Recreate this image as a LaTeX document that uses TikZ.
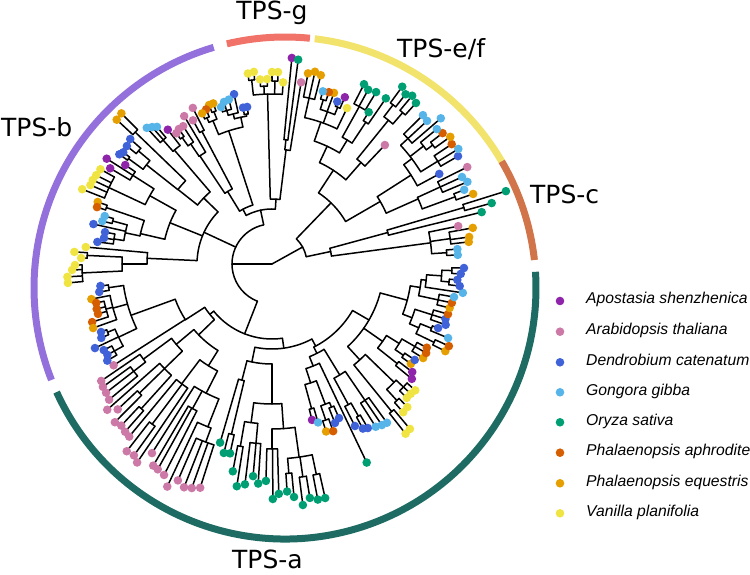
\documentclass[tikz,border=0pt]{standalone}
\usepackage{fontspec}
\setmainfont{DejaVu Sans}
\newfontfamily\legfont{Liberation Sans}
\definecolor{cPu}{HTML}{8E24AA}
\definecolor{cPk}{HTML}{CC79A7}
\definecolor{cBl}{HTML}{4062D8}
\definecolor{cLB}{HTML}{56B4E9}
\definecolor{cG}{HTML}{009E73}
\definecolor{cVm}{HTML}{D55E00}
\definecolor{cOr}{HTML}{E69F00}
\definecolor{cY}{HTML}{F0E442}
\definecolor{rB}{HTML}{9370DB}
\definecolor{rG}{HTML}{F07268}
\definecolor{rE}{HTML}{F1E36C}
\definecolor{rC}{HTML}{D2744A}
\definecolor{rA}{HTML}{1D6B62}
\pgfdeclarelayer{dots}
\pgfsetlayers{main,dots}
\tikzset{br/.style={line width=1.5pt, line cap=round, line join=round, black},
  ring/.style={line width=7pt},
  clab/.style={inner sep=0pt, font=\fontsize{25}{30}\selectfont},
  leg/.style={inner sep=0pt, anchor=mid west, font=\fontsize{15.7}{18}\selectfont\legfont\itshape}}
\newcommand\ndA[5]{\draw[br] (#3:#1pt) -- (#3:#2pt); \draw[br] (#4:#2pt) arc[start angle=#4, end angle=#5, radius=#2pt];}
\newcommand\tpA[4]{\draw[br] (#3:#1pt) -- (#3:#2pt); \begin{pgfonlayer}{dots}\fill[#4] (#3:#2pt) circle[radius=4.3pt];\end{pgfonlayer}}
\newcommand\chA[8]{\pgfmathsetmacro\chmid{(#3+#6)/2}\draw[br] (\chmid:#1pt) -- (\chmid:#2pt); \draw[br] (#3:#2pt) arc[start angle=#3, end angle=#6, radius=#2pt]; \tpA{#2}{#4}{#3}{#5}\tpA{#2}{#7}{#6}{#8}}
\begin{document}
\begin{tikzpicture}[x=1pt,y=1pt]
\useasboundingbox (0,0) rectangle (750,575);
% ---- ring ----
\begin{scope}[shift={(285,287)}]
\draw[ring,rB] (106.5:251pt) arc[start angle=106.5,end angle=201.5,radius=251pt];
\draw[ring,rG] (84.3:251pt) arc[start angle=84.3,end angle=103.4,radius=251pt];
\draw[ring,rE] (30.3:251pt) arc[start angle=30.3,end angle=83.2,radius=251pt];
\draw[ring,rC] (6.4:251pt) arc[start angle=6.4,end angle=30.3,radius=251pt];
\draw[ring,rA] (-155.5:251pt) arc[start angle=-155.5,end angle=3.7,radius=251pt];
\end{scope}
% ---- tree ----
\begin{scope}[shift={(272,311)}]
\ndA{0}{40}{180}{102}{248.6}
\ndA{0}{35}{29}{12}{46}
% Ltop
\ndA{40}{55}{102}{86.5}{118}
\ndA{55}{65}{86.5}{83}{91.5}
\ndA{65}{170}{91.5}{86.5}{96.3}
\chA{170}{185}{97.2}{192}{cY}{95.4}{193}{cY}
\chA{170}{178}{93.7}{185}{cY}{91.5}{185}{cY}
\chA{170}{183}{90}{192}{cY}{88.2}{192}{cY}
\tpA{170}{182}{86.5}{cY}
\ndA{65}{115}{83}{80.9}{83.6}
\chA{115}{125}{84.5}{207}{cPu}{82.7}{206}{cG}
\tpA{115}{184}{80.9}{cPk}
\ndA{55}{62}{118}{108}{121.5}
\ndA{62}{140}{108}{102}{112.4}
\ndA{140}{150}{102}{99.75}{104.5}
\chA{150}{152}{99}{159}{cBl}{100.5}{159}{cBl}
\ndA{150}{155}{104.5}{102.6}{106.4}
\tpA{155}{174}{102.6}{cBl}
\ndA{155}{160}{106.4}{104.7}{108}
\tpA{160}{170}{104.7}{cLB}\tpA{160}{169}{106.5}{cLB}\tpA{160}{165}{108}{cLB}
\ndA{140}{155}{112.4}{110.85}{114}
\chA{155}{163}{110.1}{171}{cOr}{111.6}{171}{cOr}
\chA{155}{160}{113.1}{168}{cVm}{114.9}{166}{cOr}
\ndA{62}{85}{121.5}{117.85}{123.7}
\chA{85}{150}{116.9}{175}{cPk}{118.8}{164}{cPk}
\ndA{85}{130}{123.7}{120.7}{124.1}
\tpA{130}{172}{120.7}{cPk}
\ndA{130}{145}{124.1}{122.8}{125.4}
\tpA{145}{164}{122.8}{cPk}
\chA{145}{155}{124.6}{164}{cPk}{126.2}{162}{cPk}
% Lmid
\ndA{40}{75}{155}{136}{177.4}
\ndA{75}{95}{136}{130.6}{141.6}
\ndA{95}{150}{130.6}{127.8}{131.3}
\tpA{150}{170}{127.8}{cPu}
\ndA{150}{165}{131.3}{130}{132.6}
\tpA{165}{179}{130}{cLB}\tpA{165}{182}{131.2}{cLB}\tpA{165}{185}{132.6}{cLB}
\ndA{95}{120}{141.6}{136.05}{141.7}
\chA{120}{190}{135}{213}{cOr}{137.1}{212}{cOr}
\ndA{120}{160}{141.7}{139.75}{143.7}
\chA{160}{175}{138.6}{189}{cBl}{140.9}{187}{cBl}
\chA{160}{178}{143.1}{186}{cBl}{144.3}{188}{cBl}
\ndA{75}{110}{158}{150.8}{167}
\ndA{110}{140}{150.8}{147.5}{154.9}
\ndA{140}{165}{147.5}{146}{149.4}
\tpA{165}{177}{146}{cPu}\tpA{165}{196}{147.5}{cPu}\tpA{165}{188}{149.4}{cPu}
\ndA{140}{180}{154.9}{151.1}{158.5}
\tpA{180}{196}{151.1}{cY}\tpA{180}{197}{153.2}{cY}\tpA{180}{198}{154.9}{cY}\tpA{180}{198}{156.5}{cY}\tpA{180}{204}{158.5}{cY}
\ndA{110}{135}{167}{161.2}{168}
\chA{135}{175}{160.4}{185}{cOr}{162}{184}{cVm}
\ndA{135}{150}{168}{164.9}{171}
\chA{150}{165}{164}{174}{cLB}{165.8}{175}{cLB}
\tpA{150}{183}{167.4}{cBl}
\ndA{150}{160}{171}{169.2}{172.8}
\tpA{160}{170}{169.2}{cBl}\tpA{160}{170}{171.2}{cBl}\tpA{160}{176}{172.8}{cBl}
\ndA{75}{125}{177.4}{174.8}{180}
\tpA{125}{187}{174.8}{cY}
\ndA{125}{150}{180}{177.35}{182.7}
\chA{150}{185}{176.5}{198}{cY}{178.2}{191}{cY}
\ndA{150}{190}{182.7}{180.3}{185.3}
\tpA{190}{197}{180.3}{cY}\tpA{190}{200}{181.7}{cY}\tpA{190}{205}{183.6}{cY}\tpA{190}{205}{185.3}{cY}
% LB
\ndA{40}{75}{248.6}{219}{278}
\ndA{75}{80}{219}{212.8}{224}
\ndA{80}{103}{212.8}{200}{212.8}
\tpA{103}{188}{212.6}{cPk}
\ndA{103}{150}{200}{188.25}{205.5}
\chA{150}{165}{187.3}{173}{cBl}{189.2}{175}{cBl}
\ndA{150}{165}{195.5}{191}{199.7}
\tpA{165}{184}{191}{cOr}
\ndA{165}{172}{195.2}{192.5}{197.9}
\tpA{172}{180}{192.5}{cVm}\tpA{172}{181}{194.4}{cVm}\tpA{172}{181}{196}{cVm}\tpA{172}{189}{197.9}{cVm}
\tpA{165}{190}{199.7}{cOr}
\ndA{150}{170}{205.5}{202.55}{208.9}
\chA{170}{178}{201.7}{184}{cBl}{203.4}{186}{cBl}
\tpA{170}{196}{205.4}{cBl}
\ndA{170}{180}{208.9}{207.1}{210.4}
\tpA{180}{189}{207.1}{cBl}\tpA{180}{188}{208.9}{cBl}\tpA{180}{191}{210.4}{cBl}
\ndA{80}{102}{224}{220}{238}
\ndA{102}{125}{220}{216.5}{224.2}
\ndA{125}{160}{216.5}{214.4}{217.8}
\tpA{160}{207}{214.4}{cPk}
\ndA{160}{175}{217.8}{216}{219.8}
\tpA{175}{209}{216}{cPk}\tpA{175}{210}{217.8}{cPk}\tpA{175}{212}{219.8}{cPk}
\ndA{125}{150}{224.2}{221.5}{227.9}
\tpA{150}{220}{221.5}{cPk}
\chA{150}{185}{223.3}{212}{cPk}{225.2}{223}{cPk}
\chA{150}{195}{227}{221}{cPk}{228.8}{223}{cPk}
\ndA{102}{120}{238}{233}{243}
\ndA{120}{150}{233}{230.4}{235.8}
\tpA{150}{224}{230.4}{cPk}
\chA{150}{200}{232.2}{237}{cPk}{234.2}{236}{cPk}
\tpA{150}{240}{235.8}{cPk}
\ndA{120}{145}{243}{237.6}{248.5}
\tpA{145}{224}{237.6}{cPk}
\ndA{145}{165}{241.2}{239.5}{242.9}
\tpA{165}{234}{239.5}{cPk}\tpA{165}{235}{240.9}{cPk}\tpA{165}{237}{242.9}{cPk}
\ndA{145}{175}{248.5}{244.8}{249.6}
\tpA{175}{246}{244.8}{cPk}
\ndA{175}{190}{249.6}{246.5}{252.2}
\tpA{190}{236}{246.5}{cPk}\tpA{190}{240}{248.5}{cPk}\tpA{190}{238}{250.3}{cPk}\tpA{190}{235}{252.2}{cPk}
% GR
\ndA{75}{85}{278}{258.4}{298}
\ndA{85}{100}{258.4}{255.5}{270}
\ndA{100}{120}{255.5}{253.8}{256.6}
\tpA{120}{186}{253.8}{cG}
\chA{120}{175}{255.7}{195}{cG}{257.5}{194}{cG}
\ndA{100}{140}{270}{262.5}{274}
\ndA{140}{160}{262.5}{260.15}{264.9}
\chA{160}{185}{259.3}{211}{cG}{261}{225}{cG}
\ndA{160}{180}{264.9}{263}{266.4}
\tpA{180}{222}{263}{cG}\tpA{180}{213}{264.9}{cG}\tpA{180}{220}{266.4}{cG}
\ndA{140}{165}{274}{270}{278}
\ndA{165}{185}{270}{268.4}{271.7}
\tpA{185}{217}{268.4}{cG}\tpA{185}{235}{270.2}{cG}\tpA{185}{230}{271.7}{cG}
\ndA{165}{195}{278}{274.6}{281.9}
\chA{195}{210}{273.8}{228}{cG}{275.4}{234}{cG}
\chA{195}{215}{277.3}{243}{cG}{279.2}{237}{cG}
\chA{195}{215}{281}{240}{cG}{282.8}{240}{cG}
% RA
\ndA{85}{93}{298}{296.7}{330}
\ndA{93}{100}{296.7}{292}{301.4}
\ndA{100}{110}{292}{288}{295.5}
\tpA{110}{220}{295.5}{cG}
\ndA{110}{125}{288}{285.3}{290.8}
\chA{125}{150}{284.4}{161}{cPu}{286.2}{165}{cLB}
\ndA{125}{150}{290.8}{289}{292.55}
\chA{150}{165}{287.9}{176}{cOr}{290.1}{178}{cVm}
\chA{150}{155}{291.6}{171}{cBl}{293.5}{168}{cBl}
\ndA{100}{130}{301.4}{298.5}{304.3}
\ndA{130}{160}{298.5}{297.1}{299.6}
\tpA{160}{182}{297.1}{cBl}
\chA{160}{175}{298.9}{188}{cBl}{300.3}{190}{cBl}
\ndA{130}{165}{304.3}{302.5}{305.9}
\tpA{165}{193}{302.5}{cLB}\tpA{165}{195}{304.3}{cLB}\tpA{165}{196}{305.9}{cLB}
\ndA{93}{112}{330}{312.5}{345}
\ndA{112}{130}{312.5}{309.05}{315.9}
\chA{130}{190}{308.2}{216}{cY}{309.9}{215}{cY}
\ndA{130}{170}{315.9}{312.45}{316.9}
\chA{170}{185}{311.5}{198}{cY}{313.4}{197}{cY}
\ndA{170}{180}{316.9}{315.2}{318.6}
\tpA{180}{190}{315.2}{cY}\tpA{180}{190}{316.9}{cY}\tpA{180}{191}{318.6}{cY}
\ndA{112}{135}{325}{321.5}{328}
\chA{135}{160}{320.6}{181}{cPu}{322.4}{177}{cPu}
\ndA{135}{150}{328}{325.2}{330}
\chA{150}{160}{324.3}{171}{cOr}{326.1}{172}{cBl}
\ndA{150}{165}{330}{328.1}{331.6}
\tpA{165}{178}{328.1}{cOr}\tpA{165}{178}{330}{cVm}\tpA{165}{176}{331.6}{cVm}
\ndA{112}{140}{345}{339}{351}
\ndA{140}{150}{339}{336.5}{342.4}
\ndA{150}{160}{336.5}{334.2}{338.05}
\chA{160}{180}{333.3}{194}{cOr}{335.1}{195}{cVm}
\chA{160}{172}{337.2}{191}{cLB}{338.9}{178}{cBl}
\ndA{150}{168}{342.4}{340.7}{344.1}
\tpA{168}{184}{340.7}{cBl}\tpA{168}{182}{342.4}{cBl}\tpA{168}{183}{344.1}{cVm}
\ndA{140}{150}{351}{347.8}{354}
\ndA{150}{170}{347.8}{346.1}{349.7}
\tpA{170}{183}{346.1}{cOr}\tpA{170}{184}{347.8}{cVm}\tpA{170}{185}{349.7}{cLB}
\ndA{150}{155}{354}{351.4}{356}
\tpA{155}{193}{351.4}{cLB}
\ndA{155}{170}{356}{354.2}{357.9}
\chA{170}{178}{353.3}{189}{cBl}{355.1}{186}{cBl}
\chA{170}{180}{357}{189}{cBl}{358.8}{192}{cBl}
% R side
\ndA{35}{85}{46}{30}{56.8}
\ndA{85}{112}{56.8}{48.75}{64.9}
\ndA{112}{130}{64.9}{58.75}{71}
\ndA{130}{145}{58.75}{56.5}{61}
\chA{145}{170}{55.5}{201}{cG}{57.5}{180}{cG}
\ndA{145}{180}{61}{58.8}{62.9}
\tpA{180}{201}{58.8}{cG}\tpA{180}{199}{61.1}{cG}\tpA{180}{202}{62.9}{cG}
\ndA{130}{150}{71}{64.3}{77.4}
\tpA{150}{173}{64.3}{cY}
\ndA{150}{162}{70}{67.25}{72.65}
\chA{162}{170}{66.4}{182}{cPu}{68.1}{175}{cBl}
\tpA{162}{182}{70.1}{cOr}
\chA{162}{172}{71.7}{181}{cVm}{73.6}{180}{cLB}
\ndA{150}{170}{77.4}{75.5}{79.3}
\tpA{170}{195}{75.5}{cOr}\tpA{170}{197}{77.4}{cOr}\tpA{170}{194}{79.3}{cOr}
\ndA{112}{135}{48.75}{46.5}{51}
\tpA{135}{164}{46.5}{cPk}
\ndA{135}{185}{51}{49.2}{52.75}
\chA{185}{200}{48.2}{216}{cG}{50.2}{219}{cG}
\chA{185}{200}{51.8}{216}{cG}{53.7}{220}{cG}
\ndA{85}{125}{30}{24}{32.6}
\ndA{125}{165}{32.6}{28.3}{37}
\tpA{165}{190}{28.3}{cBl}
\ndA{165}{175}{37}{31.8}{42.7}
\ndA{175}{195}{31.8}{30.1}{33.7}
\tpA{195}{215}{30.1}{cBl}\tpA{195}{219}{31.7}{cLB}\tpA{195}{216}{33.7}{cVm}
\ndA{175}{192}{37.9}{36.5}{39.3}
\chA{192}{200}{35.5}{219}{cOr}{37.5}{215}{cVm}
\tpA{192}{213}{39.3}{cLB}
\ndA{175}{185}{42.7}{40.8}{44.6}
\tpA{185}{223}{40.8}{cLB}\tpA{185}{211}{42.7}{cLB}\tpA{185}{212}{44.6}{cLB}
\ndA{125}{160}{24}{20.15}{24.6}
\chA{160}{195}{19.2}{213}{cOr}{21.1}{206}{cLB}
\ndA{160}{185}{24.6}{22.8}{26.4}
\tpA{185}{212}{22.8}{cLB}\tpA{185}{209}{24.6}{cLB}\tpA{185}{218}{26.4}{cPk}
\ndA{35}{60}{12}{7.6}{15.2}
\ndA{60}{120}{15.2}{13.9}{16.4}
\tpA{120}{216}{13.9}{cG}
\chA{120}{200}{15.5}{228}{cG}{17.3}{245}{cG}
\ndA{60}{160}{7.6}{3.7}{11.5}
\chA{160}{175}{2.8}{186}{cLB}{4.6}{186}{cLB}
\ndA{160}{180}{8.1}{6.4}{10.2}
\tpA{180}{198}{6.4}{cOr}\tpA{180}{199}{7.8}{cOr}\tpA{180}{204}{10.2}{cOr}
\tpA{160}{190}{11.5}{cPk}
\end{scope}
% ---- clade labels ----
\node[clab, anchor=base] (lg) at (272,555) {TPS-g};
\node[clab, anchor=base west] (lb) at (1,438) {TPS-b};
\node[clab, anchor=base west] (le) at (397,517) {TPS-e/f};
\node[clab, anchor=base west] (lc) at (530,371) {TPS-c};
\node[clab, anchor=base west] (la) at (232,6) {TPS-a};
% ---- legend ----
\foreach \col/\nm/\yy [count=\i] in {cPu/Apostasia shenzhenica/274, cPk/Arabidopsis thaliana/243.3, cBl/Dendrobium catenatum/212.7, cLB/Gongora gibba/182.7, cG/Oryza sativa/152.7, cVm/Phalaenopsis aphrodite/122.3, cOr/Phalaenopsis equestris/91.7, cY/Vanilla planifolia/61.7}{
  \fill[\col] (560,\yy) circle[radius=4.3pt];
  \node[leg] (leg\i) at (586,\yy) {\nm};
}
\end{tikzpicture}
\end{document}
